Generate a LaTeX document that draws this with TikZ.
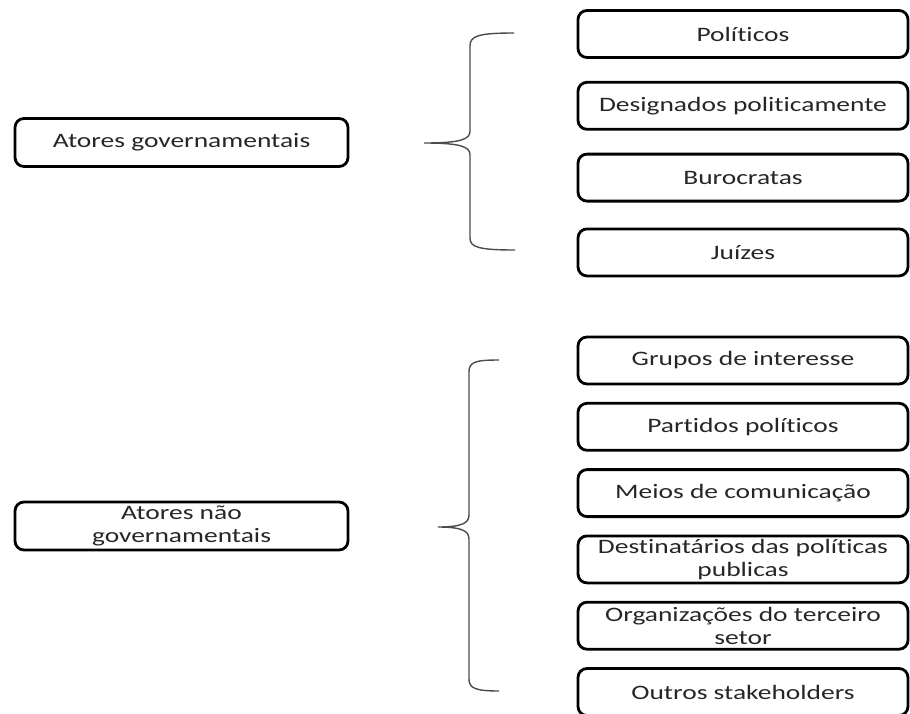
\documentclass[tikz,border=0pt]{standalone}
\usepackage{fontspec}
\setmainfont{Carlito}[FakeStretch=1.34, Ligatures=NoCommon]
\usepackage{tikz}
\usetikzlibrary{positioning}

\begin{document}
\begin{tikzpicture}[
  x=1pt, y=-1pt,
  node distance=22pt,
  actor/.style={rectangle, draw, line width=2.8pt, rounded corners=9pt, text centered, align=center, minimum width=333pt, minimum height=48pt, text=black!85, font=\fontsize{20.5}{22.5}\selectfont},
  item/.style={actor, minimum width=330pt, minimum height=47pt},
  bracket/.style={draw=black!70, line width=1.4pt}
]
\useasboundingbox (0,0) rectangle (910,713);

% Governmental actors
\node[actor] (gov) at (181.5,142.5) {Atores governamentais};
\node[item] (pol) at (743,34) {Políticos};
\node[item, below=of pol] (desig) {Designados politicamente};
\node[item, below=of desig] (buro) {Burocratas};
\node[item, below=25pt of buro] (juiz) {Juízes};

% Non-governmental actors
\node[actor] (ngov) at (181.5,526) {Atores não\\governamentais};
\node[item] (grupos) at (743,360.5) {Grupos de interesse};
\node[item, below=16.5pt of grupos] (partidos) {Partidos políticos};
\node[item, below=16.5pt of partidos] (meios) {Meios de comunicação};
\node[item, below=16.5pt of meios] (dest) {Destinatários das políticas\\publicas};
\node[item, below=16.5pt of dest] (org) {Organizações do terceiro\\setor};
\node[item, below=16.5pt of org] (outros) {Outros stakeholders};

% Brackets
\draw[bracket] (514,33) .. controls (478,33) and (470,36) .. (470,46) -- (470,131)
  .. controls (470,139) and (462,143) .. (424,143)
  .. controls (462,143) and (470,147) .. (470,155) -- (470,238)
  .. controls (470,247) and (478,250) .. (515,250);
\draw[bracket] (499,360) .. controls (475,360) and (469,362) .. (469,372) -- (469,515)
  .. controls (469,523) and (462,527) .. (438,527)
  .. controls (462,527) and (469,531) .. (469,539) -- (469,679)
  .. controls (469,688) and (475,691) .. (499,691);

\end{tikzpicture}
\end{document}
